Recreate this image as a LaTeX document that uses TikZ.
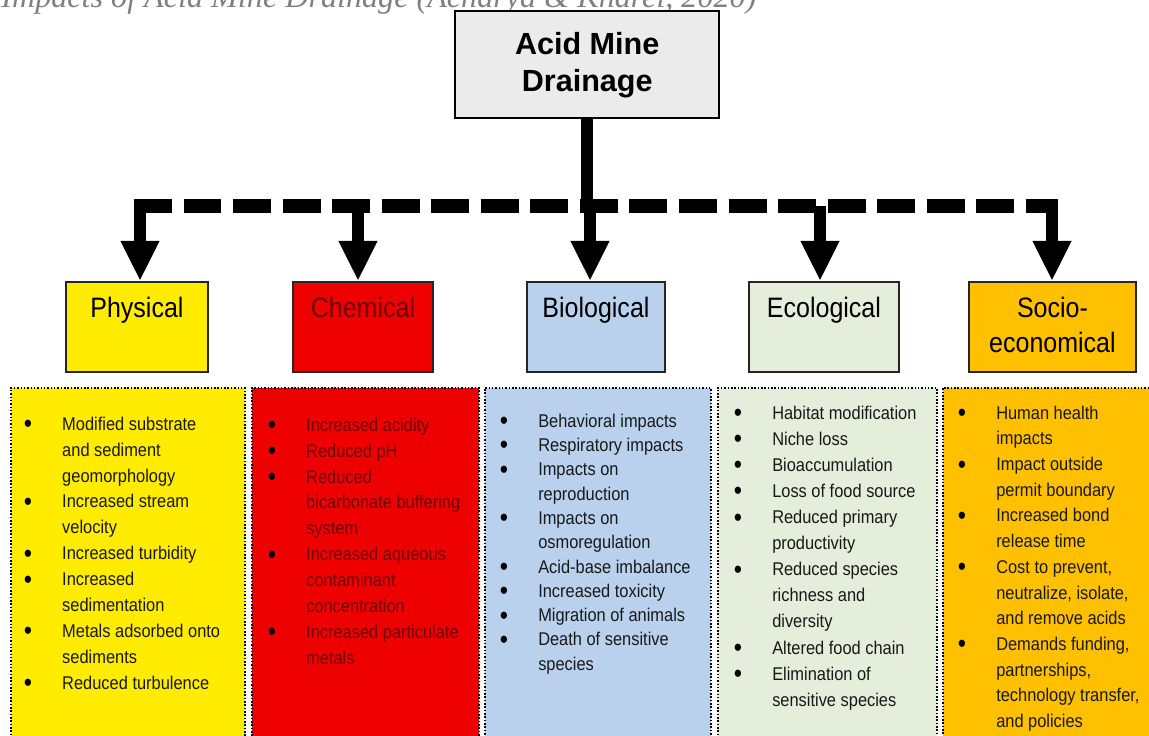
\documentclass[tikz,border=0pt]{standalone}
\usepackage{fontspec}
\setmainfont{Liberation Sans}
\newfontfamily\narrowsf{Liberation Sans}[FakeStretch=0.89]
\newfontfamily\capserif{Liberation Serif}
\usetikzlibrary{arrows.meta,positioning}
\definecolor{physyel}{RGB}{255,236,0}
\definecolor{chemred}{RGB}{238,0,0}
\definecolor{chemtxt}{RGB}{110,0,0}
\definecolor{biolblu}{RGB}{185,209,236}
\definecolor{ecolgrn}{RGB}{229,237,219}
\definecolor{socorng}{RGB}{255,192,0}
\definecolor{amdgray}{RGB}{235,235,235}
\newcommand{\itb}{\makebox[21pt][l]{\hspace*{-0.8pt}\raisebox{-1.4pt}{\color{black}\fontsize{15}{15}\selectfont\textbullet}}}
\newcommand{\itc}{\hspace*{21pt}}

\begin{document}
\begin{tikzpicture}[x=0.02cm,y=-0.02cm,
  cat/.style={draw=black!85,line width=1.1pt,anchor=north west,
              minimum height=1.8cm,inner sep=0pt},
  catlbl/.style={font=\narrowsf\fontsize{16}{20}\selectfont,align=center,inner sep=0pt},
  panel/.style={draw,densely dotted,line width=0.9pt,anchor=north west,
                minimum height=7.16cm,inner sep=0pt},
  lst/.style={font=\narrowsf\fontsize{10.5}{14.74}\selectfont,align=left,
              anchor=north west,inner sep=0pt,text=black!90},
  arr/.style={line width=6.8pt,-{Triangle[width=20.5pt,length=22.8pt]}},
  bus/.style={line width=8.5pt,dash pattern=on 21.6pt off 6.6pt}]
  \useasboundingbox (0,0) rectangle (1149,735);
  \clip (0,0) rectangle (1149,735);
  % caption line, cut at the top edge
  \node[anchor=base west,inner sep=0pt,text=black!50,
        font=\capserif\itshape\fontsize{18.3}{22}\selectfont] (ttl) at (1,7)
       {Impacts of Acid Mine Drainage (Acharya \& Kharel, 2020)};
  % root
  \node[draw,line width=1.4pt,fill=amdgray,anchor=north west,minimum width=5.28cm,
        minimum height=2.14cm,align=center,
        font=\bfseries\fontsize{17.4}{21}\selectfont] (amd) at (454,10)
       {Acid Mine\\Drainage};
  % category boxes
  \node[cat,fill=physyel,minimum width=2.84cm] (phys) at (65,281) {};
  \node[cat,fill=chemred,minimum width=2.8cm] (chem) at (292,281) {};
  \node[cat,fill=biolblu,minimum width=2.76cm] (biol) at (526,281) {};
  \node[cat,fill=ecolgrn,minimum width=3.0cm] (ecol) at (748,281) {};
  \node[cat,fill=socorng,minimum width=3.34cm] (soc) at (968,281) {};
  \node[catlbl,below=0.32cm of phys.north] (physl) {Physical};
  \node[catlbl,below=0.32cm of chem.north,text=chemtxt] (cheml) {Chemical};
  \node[catlbl,below=0.32cm of biol.north] (biold) {Biological};
  \node[catlbl,below=0.32cm of ecol.north] (ecoll) {Ecological};
  \node[catlbl,below=0.32cm of soc.north] (socl) {Socio-\\economical};
  % dashed bus and arrows
  \coordinate (busl) at (134,206);
  \coordinate (busr) at (1058,206);
  \coordinate (jphys) at (140,206);
  \coordinate (jchem) at (358,206);
  \coordinate (jbiol) at (590,206);
  \coordinate (jecol) at (820,206);
  \coordinate (jsoc) at (1052,206);
  \draw[line width=6.8pt] (amd.south) -- (amd.south |- jbiol);
  \draw[bus] (busl) -- (busr);
  \foreach \j/\b in {jphys/phys,jchem/chem,jbiol/biol,jecol/ecol,jsoc/soc}
    \draw[arr] (\j) -- (\j |- \b.north);
  % impact panels
  \node[panel,fill=physyel,minimum width=4.68cm] (physp) at (10,387) {};
  \node[panel,fill=chemred,minimum width=4.54cm] (chemp) at (251,387) {};
  \node[panel,fill=biolblu,minimum width=4.52cm] (biolp) at (484,387) {};
  \node[panel,fill=ecolgrn,minimum width=4.38cm] (ecolp) at (717,387) {};
  \node[panel,fill=socorng,minimum width=4.26cm] (socp) at (942,387) {};
  \node[lst] (physt) at (25,416.5)
       {\itb Modified substrate\\ \itc and sediment\\ \itc geomorphology\\
        \itb Increased stream\\ \itc velocity\\ \itb Increased turbidity\\
        \itb Increased\\ \itc sedimentation\\ \itb Metals adsorbed onto\\
        \itc sediments\\ \itb Reduced turbulence};
  \node[lst,text=chemtxt] (chemt) at (269,417.5)
       {\itb Increased acidity\\ \itb Reduced pH\\ \itb Reduced\\
        \itc bicarbonate buffering\\ \itc system\\ \itb Increased aqueous\\
        \itc contaminant\\ \itc concentration\\ \itb Increased particulate\\
        \itc metals};
  \node[lst,font=\narrowsf\fontsize{10.5}{13.83}\selectfont] (biolt) at (501,413.5)
       {\itb Behavioral impacts\\ \itb Respiratory impacts\\ \itb Impacts on\\
        \itc reproduction\\ \itb Impacts on\\ \itc osmoregulation\\
        \itb Acid-base imbalance\\ \itb Increased toxicity\\
        \itb Migration of animals\\ \itb Death of sensitive\\ \itc species};
  \node[lst,font=\narrowsf\fontsize{10.5}{14.85}\selectfont] (ecolt) at (735,405.5)
       {\itb Habitat modification\\ \itb Niche loss\\ \itb Bioaccumulation\\
        \itb Loss of food source\\ \itb Reduced primary\\ \itc productivity\\
        \itb Reduced species\\ \itc richness and\\ \itc diversity\\
        \itb Altered food chain\\ \itb Elimination of\\ \itc sensitive species};
  \node[lst,font=\narrowsf\fontsize{10.5}{14.62}\selectfont] (soct) at (959,405.5)
       {\itb Human health\\ \itc impacts\\ \itb Impact outside\\
        \itc permit boundary\\ \itb Increased bond\\ \itc release time\\
        \itb Cost to prevent,\\ \itc neutralize, isolate,\\ \itc and remove acids\\
        \itb Demands funding,\\ \itc partnerships,\\ \itc technology transfer,\\
        \itc and policies};
\end{tikzpicture}
\end{document}
